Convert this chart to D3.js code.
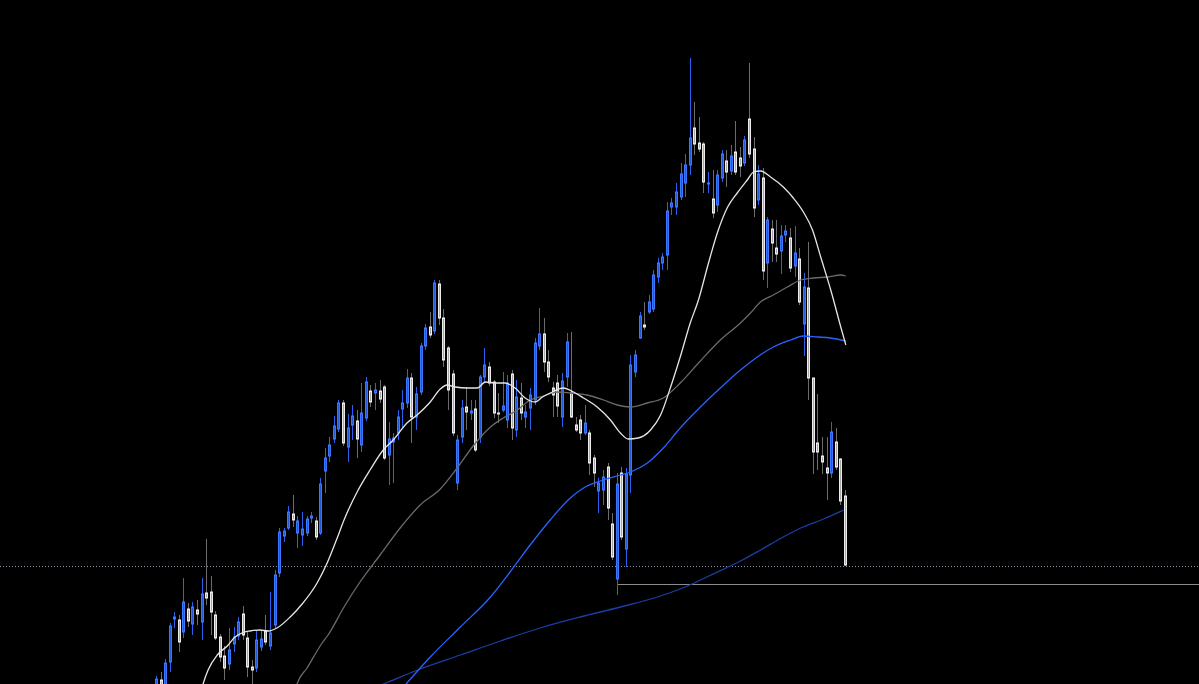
<!DOCTYPE html>
<html>
<head>
<meta charset="utf-8">
<script src="https://cdn.jsdelivr.net/npm/d3@7"></script>
<style>
  html, body { margin: 0; padding: 0; background: #000; overflow: hidden; }
  #chart { width: 1199px; height: 684px; }
</style>
</head>
<body>
<div id="chart"></div>
<script>
// candles, one row per bar: open, high, low, close (price units)
var opens = [14,20,8,38,81,80,68,91,76,90,78,107,108,85,63,44,36,56,64,86,62,33,32,53,69,54,75,127,164,172,
  186,167,165,167,182,179,167,229,244,261,271,297,253,275,279,255,282,309,307,309,313,245,258,267,291,297,322,283,308,354,
  373,369,416,382,352,326,217,263,293,287,291,263,323,333,318,287,290,280,326,270,302,283,292,300,354,366,338,312,317,283,
  323,307,275,280,267,267,242,209,210,233,176,121,227,151,225,328,362,375,388,391,423,437,445,493,493,503,517,535,572,557,
  556,516,501,495,522,539,529,548,542,537,581,551,500,522,437,471,452,449,465,462,434,441,376,412,322,257,244,232,227,258,
  241,204];
var highs = [24,28,41,77,88,85,122,97,98,100,122,161,124,89,66,54,72,73,83,94,68,40,70,70,85,108,130,172,172,194,
  205,184,188,184,188,183,222,252,263,284,300,300,286,295,290,317,323,315,317,320,315,278,267,290,310,331,327,313,357,376,
  388,420,420,391,354,330,265,300,313,300,300,325,352,338,320,307,328,325,330,320,317,295,312,362,392,382,350,318,325,327,
  367,368,283,285,295,270,245,222,230,237,187,227,233,232,345,350,388,398,405,430,442,447,498,502,517,537,546,642,598,583,
  558,528,530,530,550,550,555,579,553,564,637,563,535,532,483,480,480,475,475,472,474,452,427,458,322,306,263,263,278,272,
  242,210];
var lows = [10,8,4,28,72,48,62,73,65,75,60,95,65,60,38,20,30,48,60,60,23,16,28,49,55,50,72,123,158,170,
  173,152,154,164,177,160,165,207,238,257,268,254,238,260,242,248,279,293,290,297,240,215,217,260,273,292,257,270,305,350,
  362,366,375,333,290,264,210,257,270,280,248,257,317,314,282,277,288,272,260,263,280,272,270,295,350,328,318,283,283,273,
  313,282,268,260,265,225,213,187,195,180,140,105,160,133,207,323,361,370,386,388,417,430,430,485,485,500,503,525,545,548,
  507,507,482,488,518,513,525,525,523,534,542,483,495,420,412,438,438,426,458,428,423,395,344,300,226,230,226,200,222,230,
  195,134];
var closes = [21,14,37,74,83,58,98,79,93,86,106,102,88,62,43,32,50,63,78,65,33,30,60,61,58,67,125,168,169,188,
  180,179,171,181,184,163,216,242,255,274,297,257,272,284,261,287,318,298,310,301,242,261,262,283,297,322,283,306,354,372,
  365,417,382,340,310,267,260,292,288,289,250,323,335,317,287,286,294,317,272,303,287,288,305,357,366,338,323,305,294,319,
  358,283,270,267,277,237,227,217,223,192,143,216,163,226,335,345,384,373,398,425,437,443,489,497,508,526,535,562,556,551,
  518,517,487,525,546,528,544,528,534,560,546,492,526,429,480,457,446,464,469,432,447,398,413,322,248,248,238,227,268,233,
  199,135];

// moving averages: [bar index, price]
var maFast = [[9.2,0],[10.1,16],[11.2,30],[13.2,45],[15.4,54],[17.1,63],[18.6,67],[20.4,69],[22.6,70],[24.4,69],
  [26.3,72],[29.2,83],[32.0,97],[35.1,117],[37.3,137],[39.5,162],[41.0,180],[44.1,210],[46.7,230],[49.6,250],
  [51.8,260],[54.8,277],[57.0,285],[59.9,298],[62.1,311],[63.6,315],[65.4,313],[68.0,312],[70.2,312],[72.0,318],
  [74.2,317],[76.3,317],[78.5,312],[80.7,302],[82.9,298],[84.5,303],[86.2,307],[89.1,312],[91.3,308],[93.5,302],
  [96.5,293],[99.4,280],[101.6,267],[103.3,261],[105.5,262],[108.2,270],[110.4,285],[112.6,313],[114.7,343],
  [116.9,377],[118.7,400],[120.9,437],[122.9,468],[125.1,493],[127.2,507],[129.4,520],[130.8,528],[132.3,529],
  [134.5,523],[137.3,513],[139.5,502],[141.7,488],[143.7,470],[145.5,443],[147.7,410],[149.9,373],[151.0,355]];
var maMid = [[29.8,0],[30.7,16],[32.9,32],[36.2,57],[37.5,65],[41.0,93],[44.5,118],[48.9,145],[53.3,172],[57.7,195],
  [62.1,211],[65.8,232],[69.3,254],[73.1,273],[75.9,282],[79.0,290],[81.8,300],[84.7,304],[87.8,308],[90.6,307],
  [94.3,305],[97.9,300],[100.9,295],[103.8,293],[107.5,297],[111.0,302],[114.7,317],[118.9,338],[123.5,360],
  [127.9,377],[130.1,387],[132.3,398],[135.1,405],[138.2,413],[141.1,420],[143.9,422],[147.0,423],[149.9,425],[151.0,424]];
var maSlow = [[51.4,0],[54.4,15],[59.9,43],[66.5,73],[73.1,103],[77.4,128],[81.8,155],[86.2,180],[90.6,202],
  [93.5,212],[97.2,219],[101.6,225],[103.8,228],[107.5,237],[111.0,252],[114.7,272],[118.9,292],[123.5,312],
  [127.9,330],[131.6,343],[135.1,353],[138.9,360],[141.7,364],[144.8,363],[147.6,362],[151.0,359]];
var maLong = [[40.1,0],[49.6,16],[57.7,31],[66.5,45],[75.3,59],[84.0,72],[92.8,83],[101.6,93],[110.4,104],
  [116.3,114],[121.0,124],[127.9,139],[132.3,150],[137.3,163],[141.1,172],[146.1,181],[150.5,190]];

var lastPrice = 134;
var levelPrice = 116, levelFrom = 101;

var width = 1199, height = 684;

var svg = d3.select("#chart")
    .append("svg")
    .attr("width", width)
    .attr("height", height)
    .style("display", "block")
    .style("background", "#000");

var x = d3.scaleLinear().domain([0, opens.length - 1]).range([157, 845.8]);
var y = d3.scaleLinear().domain([0, 700]).range([700, 0]);

var bars = opens.map(function(o, i) {
  return {i: i, o: o, h: highs[i], l: lows[i], c: closes[i]};
});

// price lines
svg.append("line")
    .attr("x1", 0).attr("x2", width)
    .attr("y1", Math.round(y(lastPrice)) + 0.5).attr("y2", Math.round(y(lastPrice)) + 0.5)
    .attr("stroke", "#8a93a8")
    .attr("stroke-dasharray", "1,2");

svg.append("line")
    .attr("x1", Math.round(x(levelFrom))).attr("x2", width)
    .attr("y1", Math.round(y(levelPrice)) + 0.5).attr("y2", Math.round(y(levelPrice)) + 0.5)
    .attr("stroke", "#8c8c8c");

var g = svg.append("g");

var cx = function(d) { return Math.round(x(d.i)); };
var up = function(d) { return d.c >= d.o; };

g.selectAll("line.wick")
  .data(bars)
  .enter().append("line")
    .attr("class", "wick")
    .attr("x1", function(d) { return cx(d) - 0.5; })
    .attr("x2", function(d) { return cx(d) - 0.5; })
    .attr("y1", function(d) { return y(d.h); })
    .attr("y2", function(d) { return y(d.l); })
    .attr("stroke", function(d) { return up(d) ? "#2a62ee" : "#6c6c6c"; })
    .attr("stroke-width", 1);

g.selectAll("rect.body")
  .data(bars)
  .enter().append("rect")
    .attr("class", "body")
    .attr("x", function(d) { return cx(d) - 1.5; })
    .attr("width", 2)
    .attr("y", function(d) { return y(Math.max(d.o, d.c)); })
    .attr("height", function(d) { return Math.max(1, Math.abs(y(d.o) - y(d.c))); })
    .attr("fill", function(d) { return up(d) ? "#2456d8" : "#a6a6a6"; })
    .attr("stroke", function(d) { return up(d) ? "#3b78ff" : "#ececec"; })
    .attr("stroke-width", 1);

var line = d3.line()
    .x(function(d) { return x(d[0]); })
    .y(function(d) { return y(d[1]); })
    .curve(d3.curveMonotoneX);

var mas = [
  {data: maLong, color: "#1b3da6", w: 1.3},
  {data: maMid, color: "#6a6a6a", w: 1.3},
  {data: maSlow, color: "#2962ff", w: 1.3},
  {data: maFast, color: "#e6e6e6", w: 1.3}
];

svg.selectAll("path.ma")
  .data(mas)
  .enter().append("path")
    .attr("class", "ma")
    .attr("d", function(m) { return line(m.data); })
    .attr("fill", "none")
    .attr("stroke", function(m) { return m.color; })
    .attr("stroke-width", function(m) { return m.w; });
</script>
</body>
</html>
